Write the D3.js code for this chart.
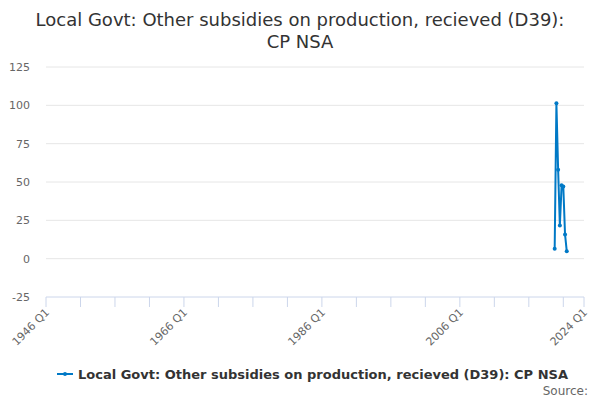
<!DOCTYPE html>
<html lang="en">
<head>
<meta charset="UTF-8">
<title>Local Govt: Other subsidies on production</title>
<script src="https://cdn.jsdelivr.net/npm/d3@7"></script>
<style>
  body { margin: 0; background: #fff; }
  text { font-family: "DejaVu Sans", Verdana, sans-serif; }
</style>
</head>
<body>
<script>
    // quarterly series, values
    const periods = ['2019 Q4', '2020 Q1', '2020 Q2', '2020 Q3', '2020 Q4', '2021 Q1', '2021 Q2', '2021 Q3']
    const values = [6.5, 101.3, 58, 21.6, 47.8, 47, 15.8, 4.9]
    const yTicks = [-25, 0, 25, 50, 75, 100, 125]
    const xLabels = ['1946 Q1', '1966 Q1', '1986 Q1', '2006 Q1', '2024 Q1']
    const seriesName = 'Local Govt: Other subsidies on production, recieved (D39): CP NSA'

    const [width, height] = [600, 400]
    const margin = {top: 67, right: 16, bottom: 103, left: 46}
    const lineColor = '#0079c6'

    // "2019 Q4" -> decimal year
    const toYear = s => {
        const [y, q] = s.split(' Q')
        return +y + (+q - 1) / 4
    }

    const svg = d3.select('body').append('svg')
        .attr('width', width)
        .attr('height', height)

    const x = d3.scaleLinear()
        .domain([toYear('1946 Q1'), toYear('2024 Q1')])
        .range([margin.left, width - margin.right])
    const y = d3.scaleLinear()
        .domain([-25, 125])
        .range([height - margin.bottom, margin.top])

    // title
    const title = svg.append('text')
        .attr('text-anchor', 'middle')
        .attr('fill', '#333')
        .style('font-size', '18px')
    title.append('tspan').attr('x', width / 2).attr('y', 26)
        .text('Local Govt: Other subsidies on production, recieved (D39):')
    title.append('tspan').attr('x', width / 2).attr('y', 48)
        .text('CP NSA')

    // grid + y labels
    const grid = svg.append('g')
    grid.selectAll('line').data(yTicks.filter(d => d > -25)).enter().append('line')
        .attr('x1', margin.left).attr('x2', width - margin.right)
        .attr('y1', d => y(d)).attr('y2', d => y(d))
        .attr('stroke', '#e6e6e6')
    svg.append('g').selectAll('text').data(yTicks).enter().append('text')
        .attr('x', 30)
        .attr('y', d => y(d) + 4)
        .attr('text-anchor', 'end')
        .attr('fill', '#666')
        .style('font-size', '11px')
        .text(d => d)

    // x axis: tick every 5 years, labels every 20
    const tickYears = d3.range(1946, 2024, 5).concat([2024])
    const xAxis = svg.append('g')
    xAxis.append('line')
        .attr('x1', margin.left).attr('x2', width - margin.right)
        .attr('y1', y(-25)).attr('y2', y(-25))
        .attr('stroke', '#ccd6eb')
    xAxis.selectAll('line.tick').data(tickYears).enter().append('line')
        .attr('class', 'tick')
        .attr('x1', d => x(d)).attr('x2', d => x(d))
        .attr('y1', y(-25)).attr('y2', y(-25) + 10)
        .attr('stroke', '#ccd6eb')
    xAxis.selectAll('text').data(xLabels).enter().append('text')
        .attr('text-anchor', 'end')
        .attr('fill', '#666')
        .style('font-size', '11px')
        .attr('transform', d => `translate(${x(toYear(d)) + 4}, ${y(-25) + 16}) rotate(-45)`)
        .text(d => d)

    // series
    const data = periods.map((p, i) => ({t: toYear(p), v: values[i]}))
    const line = d3.line().x(d => x(d.t)).y(d => y(d.v))
    svg.append('path')
        .datum(data)
        .attr('d', line)
        .attr('fill', 'none')
        .attr('stroke', lineColor)
        .attr('stroke-width', 2)
        .attr('stroke-linejoin', 'round')
    svg.append('g').selectAll('circle').data(data).enter().append('circle')
        .attr('cx', d => x(d.t))
        .attr('cy', d => y(d.v))
        .attr('r', 2)
        .attr('fill', lineColor)

    // legend
    const legend = svg.append('g').attr('transform', 'translate(57, 374)')
    legend.append('line')
        .attr('x1', 0).attr('x2', 16)
        .attr('stroke', lineColor).attr('stroke-width', 2)
    legend.append('circle').attr('cx', 8).attr('r', 2).attr('fill', lineColor)
    legend.append('text')
        .attr('x', 21).attr('y', 5)
        .attr('fill', '#333')
        .style('font-size', '13px')
        .style('font-weight', 'bold')
        .text(seriesName)

    svg.append('text')
        .attr('x', 588).attr('y', 395)
        .attr('text-anchor', 'end')
        .attr('fill', '#666')
        .style('font-size', '12px')
        .text('Source:')
</script>
</body>
</html>
